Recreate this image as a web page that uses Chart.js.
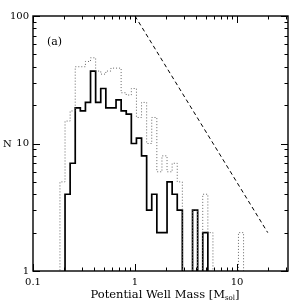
<!DOCTYPE html>
<html>
<head>
<meta charset="utf-8">
<script src="https://cdn.jsdelivr.net/npm/chart.js@4.4.1/dist/chart.umd.min.js"></script>
<style>
  html, body { margin: 0; padding: 0; background: #fff; }
  #chart { display: block; }
</style>
</head>
<body>
<canvas id="chart" width="304" height="304"></canvas>
<script>
// histogram bin edges in M_sol (about 0.05 dex wide)
const binEdges = [
  0.1837, 0.2061, 0.2312, 0.2594, 0.2911, 0.3266, 0.3664, 0.4111, 0.4613, 0.5176,
  0.5808, 0.6516, 0.7311, 0.8204, 0.9204, 1.0328, 1.1588, 1.3002, 1.4588, 1.6368,
  1.8365, 2.0606, 2.3121, 2.5942, 2.9107, 3.2659, 3.6644, 4.1115, 4.6132, 5.1761,
  5.8076, 6.5163, 7.3114, 8.2035, 9.2045, 10.328, 11.588
];
// dotted histogram (all wells)
const allCounts = [
  5, 15, 18, 40, 40, 44, 47, 37, 35, 37,
  39, 39, 25, 24, 27, 16, 21, 10, 16, 6,
  8, 6, 7, 5, 0, 0, 3, 0, 4, 2,
  0, 0, 0, 0, 0, 2
];
// solid histogram
const subsetCounts = [
  0, 4, 7, 19, 18, 21, 37, 21, 27, 19,
  19, 22, 18, 17, 10, 11, 8, 3, 4, 2,
  2, 5, 4, 3, 0, 0, 3, 0, 2, 0,
  0, 0, 0, 0, 0, 0
];
// dashed reference slope
const slopeMass = [1, 20];
const slopeN = [100, 2];

const xTickValues = [0.1, 1, 10];
const yTickValues = [1, 10, 100];
const X_MIN = 0.1, X_MAX = 31.6, Y_MIN = 1, Y_MAX = 100;
const FLOOR = 0.5; // empty bins drop below the axis (clipped)

const FONT = '"DejaVu Serif", "Liberation Serif", serif';

function stepPoints(edges, counts) {
  const pts = [{ x: edges[0], y: FLOOR }];
  counts.forEach((c, i) => pts.push({ x: edges[i], y: c > 0 ? c : FLOOR }));
  pts.push({ x: edges[counts.length], y: FLOOR });
  return pts;
}

function decadeTicks(min, max) {
  const out = [];
  for (let d = Math.floor(Math.log10(min)); d <= Math.ceil(Math.log10(max)); d++) {
    for (let m = 1; m <= 9; m++) {
      const v = m * Math.pow(10, d);
      if (v >= min * 0.999 && v <= max * 1.001) out.push({ v, major: m === 1 });
    }
  }
  return out;
}

const frameAndTicks = {
  id: 'frameAndTicks',
  afterDatasetsDraw(chart) {
    const { ctx, chartArea: a, scales: { x, y } } = chart;
    ctx.save();
    ctx.strokeStyle = '#000';
    ctx.lineWidth = 1;
    ctx.beginPath();
    decadeTicks(X_MIN, X_MAX).forEach(t => {
      const px = Math.round(x.getPixelForValue(t.v)) + 0.5;
      const len = t.major ? 7 : 3.5;
      ctx.moveTo(px, a.bottom); ctx.lineTo(px, a.bottom - len);
      ctx.moveTo(px, a.top); ctx.lineTo(px, a.top + len);
    });
    decadeTicks(Y_MIN, Y_MAX).forEach(t => {
      const py = Math.round(y.getPixelForValue(t.v)) + 0.5;
      const len = t.major ? 7 : 3.5;
      ctx.moveTo(a.left, py); ctx.lineTo(a.left + len, py);
      ctx.moveTo(a.right, py); ctx.lineTo(a.right - len, py);
    });
    ctx.stroke();
    ctx.lineWidth = 1.4;
    ctx.strokeRect(a.left, a.top, a.right - a.left, a.bottom - a.top);
    ctx.restore();
  },
  afterDraw(chart) {
    const { ctx, chartArea: a } = chart;
    ctx.save();
    ctx.fillStyle = '#000';
    ctx.textBaseline = 'middle';
    ctx.textAlign = 'left';
    ctx.font = '10px ' + FONT;
    ctx.fillText('N', 3, 144);
    ctx.font = '11px ' + FONT;
    ctx.fillText('(a)', a.left + 14, 42);
    // x-axis title with subscript
    const main = 'Potential Well Mass [M';
    const sub = 'sol';
    const close = ']';
    const big = '11.5px ' + FONT, small = '7px ' + FONT;
    ctx.font = big;
    const wMain = ctx.measureText(main).width;
    const wClose = ctx.measureText(close).width;
    ctx.font = small;
    const wSub = ctx.measureText(sub).width;
    let tx = 165 - (wMain + wSub + wClose) / 2;
    const ty = 295;
    ctx.font = big;
    ctx.fillText(main, tx, ty);
    tx += wMain;
    ctx.font = small;
    ctx.fillText(sub, tx, ty + 3);
    tx += wSub;
    ctx.font = big;
    ctx.fillText(close, tx, ty);
    ctx.restore();
  }
};

new Chart(document.getElementById('chart'), {
  type: 'line',
  data: {
    datasets: [
      {
        data: stepPoints(binEdges, allCounts),
        stepped: 'before',
        borderColor: '#666',
        borderWidth: 1,
        borderDash: [1, 2],
        pointRadius: 0,
        fill: false,
        clip: 0
      },
      {
        data: stepPoints(binEdges, subsetCounts),
        stepped: 'before',
        borderColor: '#000',
        borderWidth: 1.7,
        pointRadius: 0,
        fill: false,
        clip: 0
      },
      {
        data: slopeMass.map((m, i) => ({ x: m, y: slopeN[i] })),
        borderColor: '#000',
        borderWidth: 1,
        borderDash: [4, 3],
        pointRadius: 0,
        fill: false,
        clip: 0
      }
    ]
  },
  options: {
    responsive: false,
    animation: false,
    devicePixelRatio: 1,
    layout: { padding: { top: 16, right: 16, left: 0, bottom: 0 } },
    plugins: { legend: { display: false }, tooltip: { enabled: false } },
    scales: {
      x: {
        type: 'logarithmic',
        min: X_MIN,
        max: X_MAX,
        grid: { display: false, drawTicks: false },
        border: { display: false },
        afterBuildTicks: s => { s.ticks = xTickValues.map(v => ({ value: v })); },
        afterFit: s => { s.height = 33; },
        ticks: {
          autoSkip: false, maxRotation: 0, padding: 5,
          color: '#000', font: { family: FONT, size: 10 },
          callback: v => String(v)
        }
      },
      y: {
        type: 'logarithmic',
        min: Y_MIN,
        max: Y_MAX,
        grid: { display: false, drawTicks: false },
        border: { display: false },
        afterBuildTicks: s => { s.ticks = yTickValues.map(v => ({ value: v })); },
        afterFit: s => { s.width = 33; },
        ticks: {
          autoSkip: false, padding: 4,
          color: '#000', font: { family: FONT, size: 10 },
          callback: v => String(v)
        }
      }
    }
  },
  plugins: [frameAndTicks]
});
</script>
</body>
</html>
